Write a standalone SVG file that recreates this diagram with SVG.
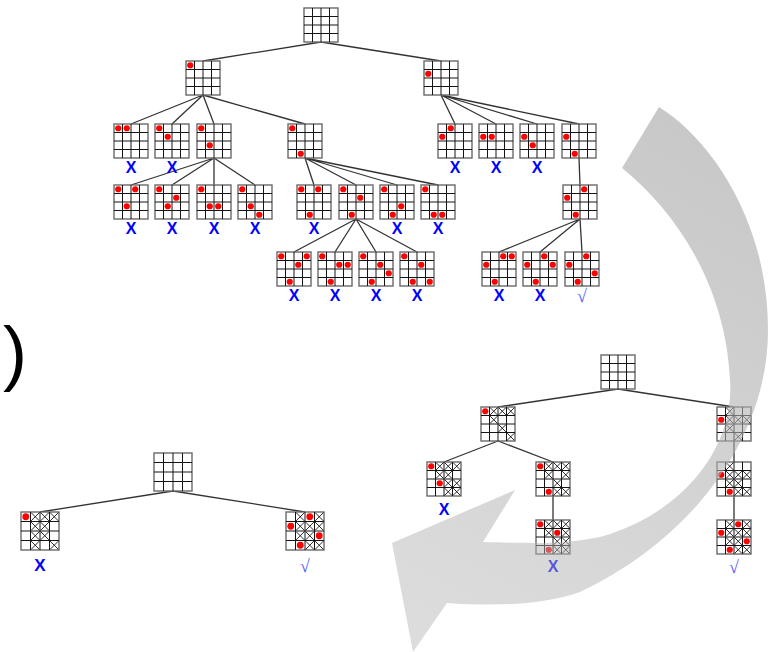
<svg xmlns="http://www.w3.org/2000/svg" width="778" height="652" viewBox="0 0 778 652">
  <style>
    .frame { fill: #fff; stroke: #6a6a6a; stroke-width: 1.4; }
    .grid { fill: none; stroke: #151515; stroke-width: 1; }
    .q { fill: #ff0000; }
    .cr { fill: none; stroke: #151515; stroke-width: 0.9; }
    .edge { fill: none; stroke: #333; stroke-width: 1.3; }
    .fail { font-family: "Liberation Sans", Arial, sans-serif; font-weight: bold; font-size: 16px; fill: #0000ff; text-anchor: middle; }
    .sol { font-family: "Liberation Serif", "DejaVu Serif", serif; font-size: 18px; fill: #5a5aff; text-anchor: middle; }
    .paren { font-family: "Liberation Sans", Arial, sans-serif; font-size: 72px; fill: #000; }
  </style>
  <defs>
    <!-- 4x4 board, 34px -->
    <g id="b4">
      <rect class="frame" x="0" y="0" width="34" height="34"/>
      <path class="grid" d="M8.5 0V34M17 0V34M25.5 0V34M0 8.5H34M0 17H34M0 25.5H34"/>
    </g>
    <!-- 4x4 board, 38px -->
    <g id="b5">
      <rect class="frame" x="0" y="0" width="38" height="38"/>
      <path class="grid" d="M9.5 0V38M19 0V38M28.5 0V38M0 9.5H38M0 19H38M0 28.5H38"/>
    </g>
    <!-- struck-out cell marks -->
    <path id="x4" class="cr" d="M0.6 0.6L7.9 7.9M7.9 0.6L0.6 7.9"/>
    <path id="x5" class="cr" d="M0.6 0.6L8.9 8.9M8.9 0.6L0.6 8.9"/>
    <circle id="d4" class="q" r="3.1"/>
    <circle id="d5" class="q" r="3.4"/>
    <linearGradient id="shade" gradientUnits="userSpaceOnUse" x1="700" y1="120" x2="430" y2="630">
      <stop offset="0" stop-color="#b0b0b0" stop-opacity="0.70"/>
      <stop offset="1" stop-color="#b0b0b0" stop-opacity="0.44"/>
    </linearGradient>
  </defs>

  <text class="paren" x="3" y="377">)</text>

  <!-- connectors -->
  <g id="edges">
    <path class="edge" d="M321 42L203 61M321 42L441 61"/>
    <path class="edge" d="M203 95L131 124M203 95L172 124M203 95L214 124M203 95L305 124"/>
    <path class="edge" d="M214 158L131 185M214 158L172 185M214 158L214 185M214 158L255 185"/>
    <path class="edge" d="M305 158L314 185M305 158L356 185M305 158L397 185M305 158L438 185"/>
    <path class="edge" d="M356 219L294 252M356 219L335 252M356 219L376 252M356 219L417 252"/>
    <path class="edge" d="M441 95L455 124M441 95L496 124M441 95L537 124M441 95L579 124"/>
    <path class="edge" d="M579 158L580 185"/>
    <path class="edge" d="M580 219L499 252M580 219L540 252M580 219L582 252"/>
    <path class="edge" d="M173 491L40 512M173 491L305 512"/>
    <path class="edge" d="M618 389L498 407M618 389L734 407"/>
    <path class="edge" d="M498 441L444 462M498 441L553 462"/>
    <path class="edge" d="M553 496L553 520"/>
    <path class="edge" d="M734 441L734 462M734 496L734 520"/>
  </g>

  <!-- upper search tree -->
  <g id="t-root" transform="translate(304,8)"><use href="#b4"/></g>
  <g id="t-a" transform="translate(186,61)"><use href="#b4"/><use href="#d4" x="4.25" y="4.25"/></g>
  <g id="t-b" transform="translate(424,61)"><use href="#b4"/><use href="#d4" x="4.25" y="12.75"/></g>

  <g id="t-a1" transform="translate(114,124)"><use href="#b4"/><use href="#d4" x="4.25" y="4.25"/><use href="#d4" x="12.75" y="4.25"/><text class="fail" x="17" y="49">X</text></g>
  <g id="t-a2" transform="translate(155,124)"><use href="#b4"/><use href="#d4" x="4.25" y="4.25"/><use href="#d4" x="12.75" y="12.75"/><text class="fail" x="17" y="49">X</text></g>
  <g id="t-a3" transform="translate(197,124)"><use href="#b4"/><use href="#d4" x="4.25" y="4.25"/><use href="#d4" x="12.75" y="21.25"/></g>
  <g id="t-a4" transform="translate(288,124)"><use href="#b4"/><use href="#d4" x="4.25" y="4.25"/><use href="#d4" x="12.75" y="29.75"/></g>

  <g id="t-a3a" transform="translate(114,185)"><use href="#b4"/><use href="#d4" x="4.25" y="4.25"/><use href="#d4" x="12.75" y="21.25"/><use href="#d4" x="21.25" y="4.25"/><text class="fail" x="17" y="49">X</text></g>
  <g id="t-a3b" transform="translate(155,185)"><use href="#b4"/><use href="#d4" x="4.25" y="4.25"/><use href="#d4" x="12.75" y="21.25"/><use href="#d4" x="21.25" y="12.75"/><text class="fail" x="17" y="49">X</text></g>
  <g id="t-a3c" transform="translate(197,185)"><use href="#b4"/><use href="#d4" x="4.25" y="4.25"/><use href="#d4" x="12.75" y="21.25"/><use href="#d4" x="21.25" y="21.25"/><text class="fail" x="17" y="49">X</text></g>
  <g id="t-a3d" transform="translate(238,185)"><use href="#b4"/><use href="#d4" x="4.25" y="4.25"/><use href="#d4" x="12.75" y="21.25"/><use href="#d4" x="21.25" y="29.75"/><text class="fail" x="17" y="49">X</text></g>

  <g id="t-a4a" transform="translate(297,185)"><use href="#b4"/><use href="#d4" x="4.25" y="4.25"/><use href="#d4" x="12.75" y="29.75"/><use href="#d4" x="21.25" y="4.25"/><text class="fail" x="17" y="49">X</text></g>
  <g id="t-a4b" transform="translate(339,185)"><use href="#b4"/><use href="#d4" x="4.25" y="4.25"/><use href="#d4" x="12.75" y="29.75"/><use href="#d4" x="21.25" y="12.75"/></g>
  <g id="t-a4c" transform="translate(380,185)"><use href="#b4"/><use href="#d4" x="4.25" y="4.25"/><use href="#d4" x="12.75" y="29.75"/><use href="#d4" x="21.25" y="21.25"/><text class="fail" x="17" y="49">X</text></g>
  <g id="t-a4d" transform="translate(421,185)"><use href="#b4"/><use href="#d4" x="4.25" y="4.25"/><use href="#d4" x="12.75" y="29.75"/><use href="#d4" x="21.25" y="29.75"/><text class="fail" x="17" y="49">X</text></g>

  <g id="t-a4b1" transform="translate(277,252)"><use href="#b4"/><use href="#d4" x="4.25" y="4.25"/><use href="#d4" x="12.75" y="29.75"/><use href="#d4" x="21.25" y="12.75"/><use href="#d4" x="29.75" y="4.25"/><text class="fail" x="17" y="49">X</text></g>
  <g id="t-a4b2" transform="translate(318,252)"><use href="#b4"/><use href="#d4" x="4.25" y="4.25"/><use href="#d4" x="12.75" y="29.75"/><use href="#d4" x="21.25" y="12.75"/><use href="#d4" x="29.75" y="12.75"/><text class="fail" x="17" y="49">X</text></g>
  <g id="t-a4b3" transform="translate(359,252)"><use href="#b4"/><use href="#d4" x="4.25" y="4.25"/><use href="#d4" x="12.75" y="29.75"/><use href="#d4" x="21.25" y="12.75"/><use href="#d4" x="29.75" y="21.25"/><text class="fail" x="17" y="49">X</text></g>
  <g id="t-a4b4" transform="translate(400,252)"><use href="#b4"/><use href="#d4" x="4.25" y="4.25"/><use href="#d4" x="12.75" y="29.75"/><use href="#d4" x="21.25" y="12.75"/><use href="#d4" x="29.75" y="29.75"/><text class="fail" x="17" y="49">X</text></g>

  <g id="t-b1" transform="translate(438,124)"><use href="#b4"/><use href="#d4" x="4.25" y="12.75"/><use href="#d4" x="12.75" y="4.25"/><text class="fail" x="17" y="49">X</text></g>
  <g id="t-b2" transform="translate(479,124)"><use href="#b4"/><use href="#d4" x="4.25" y="12.75"/><use href="#d4" x="12.75" y="12.75"/><text class="fail" x="17" y="49">X</text></g>
  <g id="t-b3" transform="translate(520,124)"><use href="#b4"/><use href="#d4" x="4.25" y="12.75"/><use href="#d4" x="12.75" y="21.25"/><text class="fail" x="17" y="49">X</text></g>
  <g id="t-b4" transform="translate(562,124)"><use href="#b4"/><use href="#d4" x="4.25" y="12.75"/><use href="#d4" x="12.75" y="29.75"/></g>
  <g id="t-b4a" transform="translate(563,185)"><use href="#b4"/><use href="#d4" x="4.25" y="12.75"/><use href="#d4" x="12.75" y="29.75"/><use href="#d4" x="21.25" y="4.25"/></g>
  <g id="t-b4a1" transform="translate(482,252)"><use href="#b4"/><use href="#d4" x="4.25" y="12.75"/><use href="#d4" x="12.75" y="29.75"/><use href="#d4" x="21.25" y="4.25"/><use href="#d4" x="29.75" y="4.25"/><text class="fail" x="17" y="49">X</text></g>
  <g id="t-b4a2" transform="translate(523,252)"><use href="#b4"/><use href="#d4" x="4.25" y="12.75"/><use href="#d4" x="12.75" y="29.75"/><use href="#d4" x="21.25" y="4.25"/><use href="#d4" x="29.75" y="12.75"/><text class="fail" x="17" y="49">X</text></g>
  <g id="t-b4a3" transform="translate(565,252)"><use href="#b4"/><use href="#d4" x="4.25" y="12.75"/><use href="#d4" x="12.75" y="29.75"/><use href="#d4" x="21.25" y="4.25"/><use href="#d4" x="29.75" y="21.25"/><text class="sol" x="17" y="50">√</text></g>

  <!-- lower-left tree (with propagation) -->
  <g id="l-root" transform="translate(154,453)"><use href="#b5"/></g>
  <g id="l-a" transform="translate(21,512)">
    <use href="#b5"/>
    <use href="#x5" x="9.5" y="0"/><use href="#x5" x="19" y="0"/><use href="#x5" x="28.5" y="0"/>
    <use href="#x5" x="9.5" y="9.5"/><use href="#x5" x="19" y="9.5"/>
    <use href="#x5" x="9.5" y="19"/><use href="#x5" x="19" y="19"/>
    <use href="#x5" x="9.5" y="28.5"/><use href="#x5" x="28.5" y="28.5"/>
    <use href="#d5" x="4.75" y="4.75"/>
    <text class="fail" x="19" y="59" style="font-size:17px">X</text>
  </g>
  <g id="l-b" transform="translate(286,512)">
    <use href="#b5"/>
    <use href="#x5" x="9.5" y="0"/><use href="#x5" x="28.5" y="0"/>
    <use href="#x5" x="9.5" y="9.5"/><use href="#x5" x="19" y="9.5"/><use href="#x5" x="28.5" y="9.5"/>
    <use href="#x5" x="9.5" y="19"/><use href="#x5" x="19" y="19"/>
    <use href="#x5" x="19" y="28.5"/><use href="#x5" x="28.5" y="28.5"/>
    <use href="#d5" x="4.75" y="14.25"/><use href="#d5" x="14.25" y="33.25"/><use href="#d5" x="23.75" y="4.75"/><use href="#d5" x="33.25" y="23.75"/>
    <text class="sol" x="19" y="60">√</text>
  </g>

  <!-- lower-right tree (forward checking) -->
  <g id="r-root" transform="translate(601,355)"><use href="#b4"/></g>
  <g id="r-a" transform="translate(481,407)">
    <use href="#b4"/>
    <use href="#x4" x="8.5" y="0"/><use href="#x4" x="17" y="0"/><use href="#x4" x="25.5" y="0"/>
    <use href="#x4" x="8.5" y="8.5"/><use href="#x4" x="17" y="17"/><use href="#x4" x="25.5" y="25.5"/>
    <use href="#d4" x="4.25" y="4.25"/>
  </g>
  <g id="r-b" transform="translate(717,407)">
    <use href="#b4"/>
    <use href="#x4" x="8.5" y="0"/><use href="#x4" x="8.5" y="8.5"/><use href="#x4" x="17" y="8.5"/><use href="#x4" x="25.5" y="8.5"/>
    <use href="#x4" x="8.5" y="17"/><use href="#x4" x="17" y="25.5"/>
    <use href="#d4" x="4.25" y="12.75"/>
  </g>
  <g id="r-a1" transform="translate(427,462)">
    <use href="#b4"/>
    <use href="#x4" x="8.5" y="0"/><use href="#x4" x="17" y="0"/><use href="#x4" x="25.5" y="0"/>
    <use href="#x4" x="8.5" y="8.5"/><use href="#x4" x="17" y="8.5"/>
    <use href="#x4" x="17" y="17"/><use href="#x4" x="25.5" y="17"/>
    <use href="#x4" x="17" y="25.5"/><use href="#x4" x="25.5" y="25.5"/>
    <use href="#d4" x="4.25" y="4.25"/><use href="#d4" x="12.75" y="21.25"/>
    <text class="fail" x="17" y="53">X</text>
  </g>
  <g id="r-a2" transform="translate(536,462)">
    <use href="#b4"/>
    <use href="#x4" x="8.5" y="0"/><use href="#x4" x="17" y="0"/><use href="#x4" x="25.5" y="0"/>
    <use href="#x4" x="8.5" y="8.5"/><use href="#x4" x="25.5" y="8.5"/>
    <use href="#x4" x="17" y="17"/>
    <use href="#x4" x="17" y="25.5"/><use href="#x4" x="25.5" y="25.5"/>
    <use href="#d4" x="4.25" y="4.25"/><use href="#d4" x="12.75" y="29.75"/>
  </g>
  <g id="r-a2a" transform="translate(536,520)">
    <use href="#b4"/>
    <use href="#x4" x="8.5" y="0"/><use href="#x4" x="17" y="0"/><use href="#x4" x="25.5" y="0"/>
    <use href="#x4" x="8.5" y="8.5"/><use href="#x4" x="25.5" y="8.5"/>
    <use href="#x4" x="17" y="17"/><use href="#x4" x="25.5" y="17"/>
    <use href="#x4" x="17" y="25.5"/><use href="#x4" x="25.5" y="25.5"/>
    <use href="#d4" x="4.25" y="4.25"/><use href="#d4" x="12.75" y="29.75"/><use href="#d4" x="21.25" y="12.75"/>
    <text class="fail" x="17" y="52">X</text>
  </g>
  <g id="r-b1" transform="translate(717,462)">
    <use href="#b4"/>
    <use href="#x4" x="8.5" y="0"/>
    <use href="#x4" x="8.5" y="8.5"/><use href="#x4" x="17" y="8.5"/><use href="#x4" x="25.5" y="8.5"/>
    <use href="#x4" x="8.5" y="17"/><use href="#x4" x="17" y="17"/>
    <use href="#x4" x="17" y="25.5"/><use href="#x4" x="25.5" y="25.5"/>
    <use href="#d4" x="4.25" y="12.75"/><use href="#d4" x="12.75" y="29.75"/>
  </g>
  <g id="r-b1a" transform="translate(717,520)">
    <use href="#b4"/>
    <use href="#x4" x="8.5" y="0"/><use href="#x4" x="25.5" y="0"/>
    <use href="#x4" x="8.5" y="8.5"/><use href="#x4" x="17" y="8.5"/><use href="#x4" x="25.5" y="8.5"/>
    <use href="#x4" x="8.5" y="17"/><use href="#x4" x="17" y="17"/>
    <use href="#x4" x="17" y="25.5"/><use href="#x4" x="25.5" y="25.5"/>
    <use href="#d4" x="4.25" y="12.75"/><use href="#d4" x="12.75" y="29.75"/><use href="#d4" x="21.25" y="4.25"/><use href="#d4" x="29.75" y="21.25"/>
    <text class="sol" x="17" y="53">√</text>
  </g>

  <!-- curved return arrow, drawn over the lower-right tree -->
  <path id="return-arrow" fill="url(#shade)" d="M659 107C705 135 768 215 768 330C768 440 690 540 580 592C540 606 490 606 447 603L413 652L392 543L515 490L483 542C530 543 560 545 600 537C680 515 735 450 730 380C726 290 680 215 622 168Z"/>
</svg>
